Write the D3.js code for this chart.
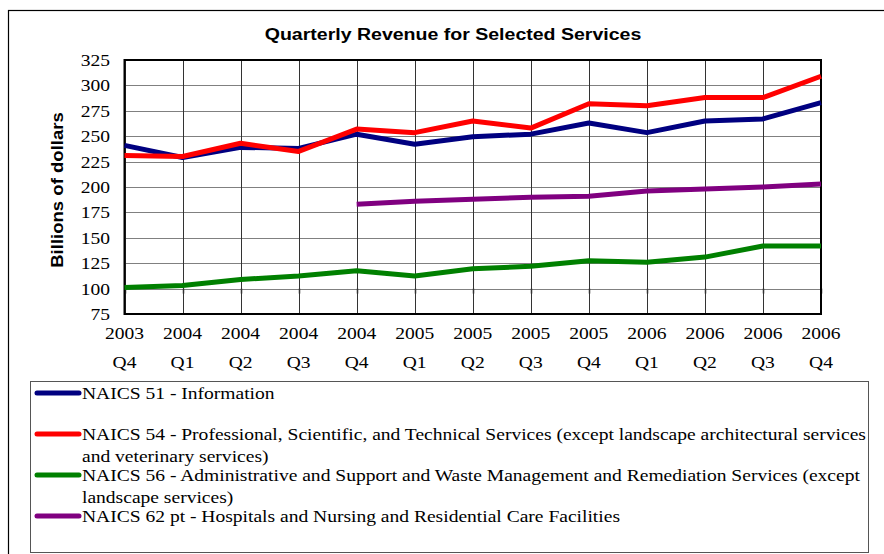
<!DOCTYPE html>
<html>
<head>
<meta charset="utf-8">
<script src="https://cdn.jsdelivr.net/npm/d3@7"></script>
<style>
    body { margin: 0; background: #fff; }
    svg { display: block; }
</style>
</head>
<body>
<div id="chart"></div>
<script>
// Quarter labels (two rows under the axis)
const years = ['2003', '2004', '2004', '2004', '2004', '2005', '2005', '2005', '2005', '2006', '2006', '2006', '2006'];
const quarters = ['Q4', 'Q1', 'Q2', 'Q3', 'Q4', 'Q1', 'Q2', 'Q3', 'Q4', 'Q1', 'Q2', 'Q3', 'Q4'];

// Series values, billions of dollars
const information = [241, 229, 239, 238, 252, 242, 249.5, 252, 263, 253.5, 265, 267, 283];
const professional = [231, 230, 243, 235, 257, 253.5, 265, 258, 282, 280, 288, 288, 309];
const administrative = [101, 103, 109, 112.5, 117.5, 112.5, 119.5, 122, 127.5, 126, 131, 142, 142];
const hospitals = [null, null, null, null, 183, 186, 188, 190, 191, 196, 198, 200, 203];

const yTicks = [75, 100, 125, 150, 175, 200, 225, 250, 275, 300, 325];

const legendLines = [
    ['NAICS 51 - Information'],
    ['NAICS 54 - Professional, Scientific, and Technical Services (except landscape architectural services',
     'and veterinary services)'],
    ['NAICS 56 - Administrative and Support and Waste Management and Remediation Services (except',
     'landscape services)'],
    ['NAICS 62 pt - Hospitals and Nursing and Residential Care Facilities']
];

const series = [
    { values: information, color: '#000080' },
    { values: professional, color: '#ff0000' },
    { values: administrative, color: '#008000' },
    { values: hospitals, color: '#800080' }
];

const width = 884, height = 554;
const plot = { left: 124.5, right: 821, top: 60, bottom: 314 };
const serif = '"Liberation Serif", "Times New Roman", serif';
const sans = '"Liberation Sans", Arial, sans-serif';
const stretch = 1.15; // the original text is wider than Times

const svg = d3.select('#chart')
    .append('svg')
    .attr('width', width)
    .attr('height', height);

// Outer chart border (runs off the right and bottom edges)
svg.append('rect')
    .attr('x', 8.5).attr('y', 10.5)
    .attr('width', 900).attr('height', 600)
    .attr('fill', 'none')
    .attr('stroke', '#000')
    .attr('stroke-width', 1.2);

const x = d3.scalePoint(d3.range(quarters.length), [plot.left, plot.right]);
const y = d3.scaleLinear([75, 325], [plot.bottom, plot.top]);

// Horizontal gridlines
svg.append('g')
    .selectAll('line')
    .data(yTicks)
    .enter()
    .append('line')
    .attr('x1', plot.left).attr('x2', plot.right)
    .attr('y1', d => Math.round(y(d)) + 0.5)
    .attr('y2', d => Math.round(y(d)) + 0.5)
    .attr('stroke', '#808080')
    .attr('stroke-width', 1);

// Vertical gridlines
svg.append('g')
    .selectAll('line')
    .data(d3.range(quarters.length))
    .enter()
    .append('line')
    .attr('x1', d => Math.round(x(d)) + 0.5)
    .attr('x2', d => Math.round(x(d)) + 0.5)
    .attr('y1', plot.top).attr('y2', plot.bottom)
    .attr('stroke', '#333')
    .attr('stroke-width', 1);

// Small category ticks hanging below the 100 line
svg.append('g')
    .selectAll('line')
    .data(d3.range(quarters.length))
    .enter()
    .append('line')
    .attr('x1', d => Math.round(x(d)) + 0.5)
    .attr('x2', d => Math.round(x(d)) + 0.5)
    .attr('y1', y(100)).attr('y2', y(100) + 5)
    .attr('stroke', '#333')
    .attr('stroke-width', 1.5);

// Plot frame
svg.append('rect')
    .attr('x', plot.left).attr('y', plot.top)
    .attr('width', plot.right - plot.left)
    .attr('height', plot.bottom - plot.top)
    .attr('fill', 'none')
    .attr('stroke', '#000')
    .attr('stroke-width', 2);

// Y tick labels
svg.append('g')
    .selectAll('text')
    .data(yTicks)
    .enter()
    .append('text')
    .attr('transform', d => `translate(110,${y(d)}) scale(${stretch},1)`)
    .attr('dy', '0.35em')
    .attr('text-anchor', 'end')
    .style('font-family', serif)
    .style('font-size', '17px')
    .text(d => d);

// X tick labels, two rows
const xLabels = svg.append('g')
    .selectAll('text')
    .data(d3.range(quarters.length))
    .enter()
    .append('text')
    .attr('transform', d => `translate(${x(d)},0) scale(${stretch},1)`)
    .attr('text-anchor', 'middle')
    .style('font-family', serif)
    .style('font-size', '17px');
xLabels.append('tspan')
    .attr('x', 0).attr('y', 339)
    .text(d => years[d]);
xLabels.append('tspan')
    .attr('x', 0).attr('y', 368)
    .text(d => quarters[d]);

// Lines
const line = d3.line()
    .defined(d => d != null)
    .x((d, i) => x(i))
    .y(d => y(d));

svg.append('g')
    .selectAll('path')
    .data(series)
    .enter()
    .append('path')
    .attr('d', d => line(d.values))
    .attr('fill', 'none')
    .attr('stroke', d => d.color)
    .attr('stroke-width', 5)
    .attr('stroke-linejoin', 'round');

// Title
svg.append('text')
    .attr('transform', 'translate(453,40) scale(1.15,1)')
    .attr('text-anchor', 'middle')
    .style('font-family', sans)
    .style('font-weight', 'bold')
    .style('font-size', '17px')
    .text('Quarterly Revenue for Selected Services');

// Y axis title
svg.append('text')
    .attr('transform', 'translate(63,190) rotate(-90) scale(1.16,1)')
    .attr('text-anchor', 'middle')
    .style('font-family', sans)
    .style('font-weight', 'bold')
    .style('font-size', '16px')
    .text('Billions of dollars');

// Legend
const legend = svg.append('g');
legend.append('rect')
    .attr('x', 30.5).attr('y', 381.5)
    .attr('width', 838).attr('height', 171)
    .attr('fill', 'none')
    .attr('stroke', '#555')
    .attr('stroke-width', 1);

const legendY = [393, 434, 475, 516];
const items = legend.selectAll('g.item')
    .data(series)
    .enter()
    .append('g')
    .attr('class', 'item')
    .attr('transform', (d, i) => `translate(0,${legendY[i]})`);

items.append('line')
    .attr('x1', 37).attr('x2', 79)
    .attr('y1', 0).attr('y2', 0)
    .attr('stroke', d => d.color)
    .attr('stroke-width', 5)
    .attr('stroke-linecap', 'round');

items.append('text')
    .attr('transform', `translate(82,0) scale(${stretch},1)`)
    .style('font-family', serif)
    .style('font-size', '17px')
    .selectAll('tspan')
    .data((d, i) => legendLines[i])
    .enter()
    .append('tspan')
    .attr('x', 0)
    .attr('y', (d, j) => 6 + j * 22)
    .text(d => d);
</script>
</body>
</html>
